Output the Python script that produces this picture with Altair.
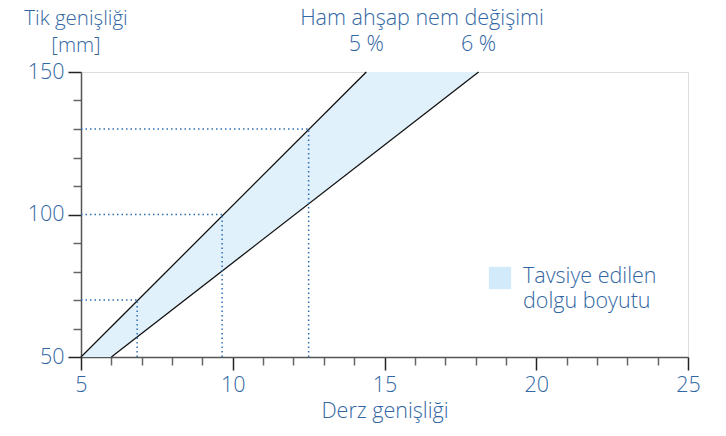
import altair as alt
import pandas as pd

# --- data ---
y_ends = [50, 150]
line_5_x = [5.0, 14.4]      # 5 % moisture change
line_6_x = [6.0, 18.1]      # 6 % moisture change
guide_y = [70, 100, 130]
guide_x = [6.85, 9.65, 12.5]
x_ticks = list(range(5, 26))
y_ticks = list(range(50, 151, 10))

TXT = "#3267a3"
FONT = "Open Sans"
FS = 21.5

lines_df = pd.DataFrame({
    "x": line_5_x + line_6_x,
    "y": y_ends + y_ends,
    "s": ["5 %", "5 %", "6 %", "6 %"],
})
area_df = pd.DataFrame({"y": y_ends, "x1": line_5_x, "x2": line_6_x})
guide_df = pd.DataFrame({"gx": guide_x, "gy": guide_y, "x0": [5] * 3, "y0": [50] * 3})
label_df = pd.DataFrame({"x": [line_5_x[1], line_6_x[1]], "t": ["5 %", "6 %"]})

xs = alt.Scale(domain=[5, 25], nice=False, zero=False)
ys = alt.Scale(domain=[50, 150], nice=False, zero=False)


def axis(values, step, **kw):
    test = f"datum.value % {step} === 0"
    return alt.Axis(
        values=values, grid=False, labelOverlap=False, labelFlush=False,
        tickSize={"condition": {"test": test, "value": 13}, "value": 8},
        tickColor={"condition": {"test": test, "value": "#222"}, "value": "#666"},
        tickWidth=1.5,
        labelExpr=f"{test} ? datum.label : ''",
        domainColor="#555", domainWidth=1.5,
        labelFontSize=FS, labelColor=TXT, labelFont=FONT, labelFontWeight=300,
        labelPadding=4,
        **kw,
    )


ax_x = axis(x_ticks, 5, title="Derz genişliği", titleFontSize=FS, titleColor=TXT,
            titleFont=FONT, titleFontWeight=300, titlePadding=5)
ax_y = axis(y_ticks, 50, title=None)

area = alt.Chart(area_df).mark_area(orient="horizontal", color="#e1f1fb", opacity=1).encode(
    y=alt.Y("y:Q", scale=ys, axis=ax_y),
    x=alt.X("x1:Q", scale=xs, axis=ax_x),
    x2="x2:Q",
)

lines = alt.Chart(lines_df).mark_line(color="#111", strokeWidth=1.3).encode(
    x=alt.X("x:Q", scale=xs, axis=ax_x),
    y=alt.Y("y:Q", scale=ys, axis=ax_y),
    detail="s:N",
)

gstyle = dict(color="#2f6db3", strokeDash=[1.5, 3], strokeWidth=1.5)
ghor = alt.Chart(guide_df).mark_rule(**gstyle).encode(
    x=alt.X("x0:Q", scale=xs, axis=ax_x), x2="gx:Q", y=alt.Y("gy:Q", scale=ys, axis=ax_y))
gver = alt.Chart(guide_df).mark_rule(**gstyle).encode(
    x=alt.X("gx:Q", scale=xs, axis=ax_x), y=alt.Y("y0:Q", scale=ys, axis=ax_y), y2="gy:Q")

tstyle = dict(font=FONT, fontSize=FS, fontWeight=300, color=TXT)
pct = alt.Chart(label_df).mark_text(baseline="middle", align="center", **tstyle).encode(
    x=alt.X("x:Q", scale=xs, axis=ax_x), y=alt.value(-27), text="t:N")
head = alt.Chart(label_df.head(1)).mark_text(baseline="middle", align="center", **tstyle).encode(
    x=alt.value(341), y=alt.value(-53), text=alt.value("Ham ahşap nem değişimi"))
ytitle = alt.Chart(label_df.head(1)).mark_text(baseline="middle", align="center",
                                               lineHeight=27, font=FONT, fontSize=20.5,
                                               fontWeight=300, color=TXT).encode(
    x=alt.value(-5), y=alt.value(-53), text=alt.value(["Tik genişliği", "[mm]"]))
swatch = alt.Chart(label_df.head(1)).mark_square(color="#d3eafa", opacity=1, size=500).encode(
    x=alt.value(419), y=alt.value(206))
legtxt = alt.Chart(label_df.head(1)).mark_text(baseline="middle", align="left",
                                               lineHeight=25, **tstyle).encode(
    x=alt.value(442), y=alt.value(205), text=alt.value(["Tavsiye edilen", "dolgu boyutu"]))

chart = alt.layer(area, lines, ghor, gver, pct, head, ytitle, swatch, legtxt).properties(
    width=607, height=285,
    autosize=alt.AutoSizeParams(type="none"),
    padding={"left": 73, "top": 64, "right": 30, "bottom": 70},
).configure_view(stroke=None).configure_axis(labelOverlap=False).configure(background="white")

chart.save("out.html", embed_options={"renderer": "svg", "actions": False})
